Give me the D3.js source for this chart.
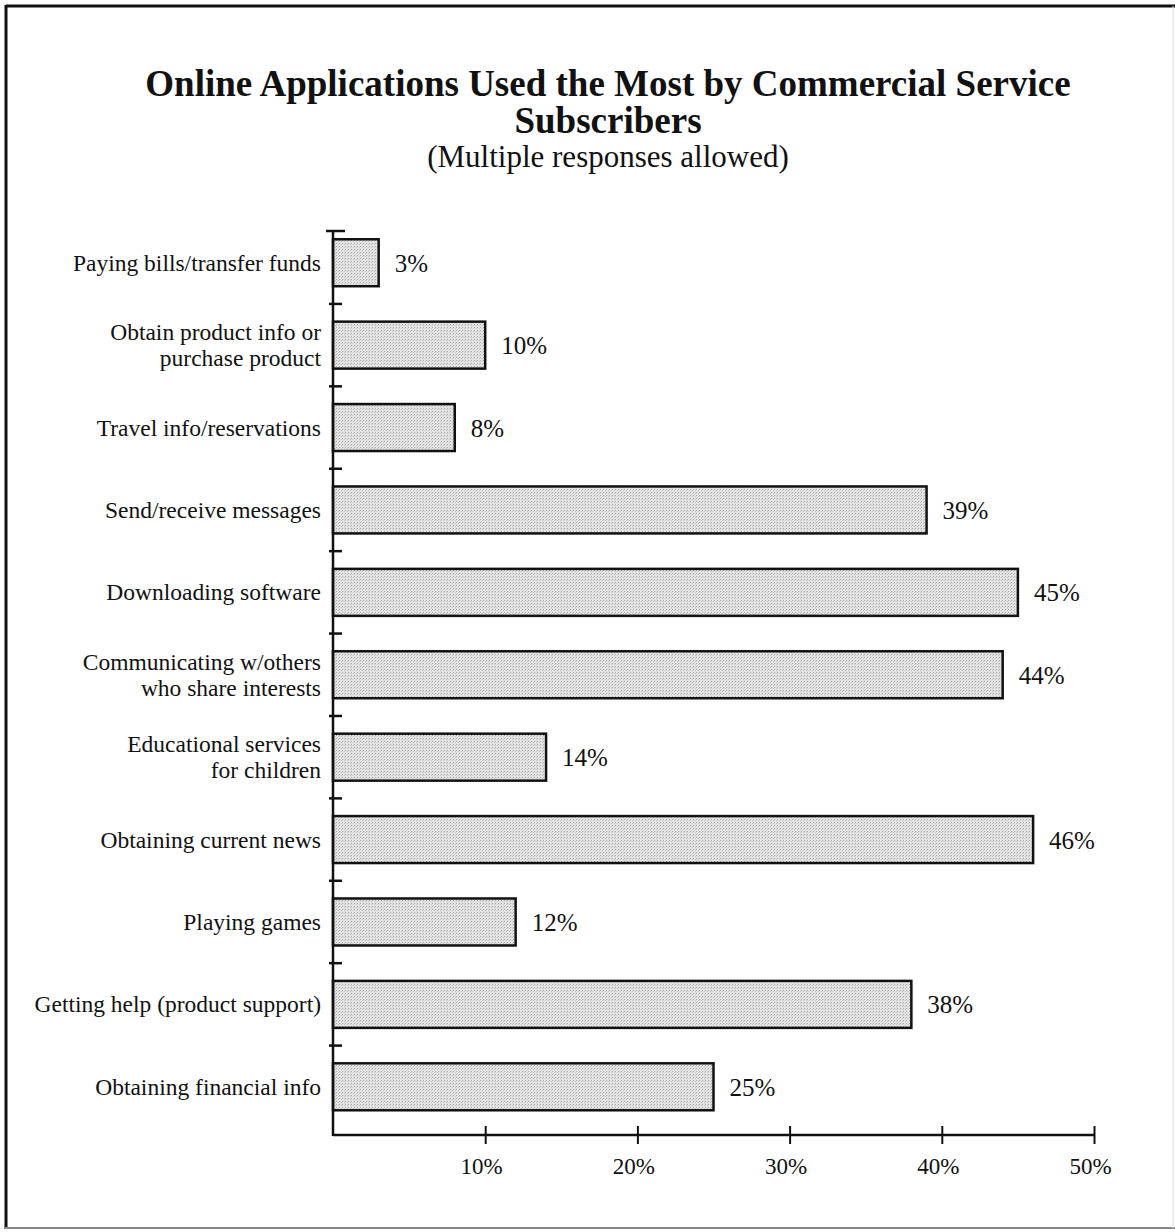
<!DOCTYPE html>
<html>
<head>
<meta charset="utf-8">
<script src="https://cdn.jsdelivr.net/npm/d3@7/dist/d3.min.js"></script>
<style>
  html, body { margin: 0; padding: 0; background: #fff; }
  svg { display: block; }
  text { font-family: "Liberation Serif", "Times New Roman", Times, serif; fill: #111; }
</style>
</head>
<body>
<svg id="chart" width="1175" height="1232"></svg>
<script>
// Survey categories, top to bottom
const categories = [
  "Paying bills/transfer funds",
  "Obtain product info or\npurchase product",
  "Travel info/reservations",
  "Send/receive messages",
  "Downloading software",
  "Communicating w/others\nwho share interests",
  "Educational services\nfor children",
  "Obtaining current news",
  "Playing games",
  "Getting help (product support)",
  "Obtaining financial info"
];

// Share of subscribers (%) choosing each application
const values = [3, 10, 8, 39, 45, 44, 14, 46, 12, 38, 25];

// Horizontal axis tick values (%)
const tickValues = [10, 20, 30, 40, 50];

const titleLines = ["Online Applications Used the Most by Commercial Service", "Subscribers"];
const subtitle = "(Multiple responses allowed)";

const svg = d3.select("#chart");
const W = 1175, H = 1232;

// Page frame
const frame = svg.append("g");
frame.append("line").attr("x1", 6).attr("y1", 6).attr("x2", W).attr("y2", 6)
  .attr("stroke", "#111").attr("stroke-width", 3);
frame.append("line").attr("x1", 6).attr("y1", 5).attr("x2", 6).attr("y2", 1229)
  .attr("stroke", "#111").attr("stroke-width", 3);
frame.append("line").attr("x1", 5).attr("y1", 1228).attr("x2", W).attr("y2", 1228)
  .attr("stroke", "#888").attr("stroke-width", 2);
frame.append("line").attr("x1", 1173).attr("y1", 6).attr("x2", 1173).attr("y2", 1228)
  .attr("stroke", "#ddd").attr("stroke-width", 1);

// Stippled grey fill for the bars
const defs = svg.append("defs");
const pat = defs.append("pattern").attr("id", "stipple")
  .attr("width", 3).attr("height", 3).attr("patternUnits", "userSpaceOnUse");
pat.append("rect").attr("width", 3).attr("height", 3).attr("fill", "#e3e3e3");
pat.append("rect").attr("x", 0).attr("y", 0).attr("width", 1).attr("height", 1).attr("fill", "#a8a8a8");
pat.append("rect").attr("x", 2).attr("y", 1).attr("width", 1).attr("height", 1).attr("fill", "#c4c4c4");

// Titles
const cx = 608;
svg.append("text").attr("x", cx).attr("y", 96).attr("text-anchor", "middle")
  .attr("font-size", 37).attr("font-weight", "bold").text(titleLines[0]);
svg.append("text").attr("x", cx).attr("y", 133).attr("text-anchor", "middle")
  .attr("font-size", 37).attr("font-weight", "bold").text(titleLines[1]);
svg.append("text").attr("x", cx).attr("y", 167).attr("text-anchor", "middle")
  .attr("font-size", 31).text(subtitle);

// Scales
const x0 = 333, x1 = 1094;
const yTop = 231, yBot = 1135;
const x = d3.scaleLinear().domain([0, 50]).range([x0, x1]);
const y = d3.scaleBand().domain(categories).range([yTop, yBot])
  .paddingInner(0.43).paddingOuter(0.2).align(0.25);
const gap = y.step() - y.bandwidth();

// Bars
svg.append("g").selectAll("rect").data(categories).join("rect")
  .attr("x", x(0))
  .attr("y", d => y(d))
  .attr("width", (d, i) => x(values[i]) - x(0))
  .attr("height", y.bandwidth())
  .attr("fill", "url(#stipple)")
  .attr("stroke", "#111")
  .attr("stroke-width", 2.5);

// Value labels
svg.append("g").selectAll("text").data(categories).join("text")
  .attr("x", (d, i) => x(values[i]) + 16)
  .attr("y", d => y(d) + y.bandwidth() / 2 + 9)
  .attr("font-size", 25)
  .text((d, i) => values[i] + "%");

// Category labels (multi-line, right aligned)
const lab = svg.append("g").selectAll("text").data(categories).join("text")
  .attr("text-anchor", "end")
  .attr("font-size", 23.5)
  .attr("x", 321)
  .attr("y", d => y(d) + y.bandwidth() / 2);
lab.each(function (d) {
  const lines = d.split("\n");
  const t = d3.select(this);
  const lh = 26;
  lines.forEach((ln, k) => {
    t.append("tspan").attr("x", 321)
      .attr("y", y(d) + y.bandwidth() / 2 + 8 + (k - (lines.length - 1) / 2) * lh)
      .text(ln);
  });
});

// Vertical axis line with separators between categories
const ax = svg.append("g").attr("stroke", "#111");
ax.append("line").attr("x1", x0).attr("x2", x0).attr("y1", yTop).attr("y2", yBot + 1)
  .attr("stroke-width", 2.5);
ax.append("line").attr("x1", x0 - 7).attr("x2", x0 + 12).attr("y1", yTop).attr("y2", yTop)
  .attr("stroke-width", 2.5);
ax.selectAll("line.sep").data(categories.slice(1)).join("line").attr("class", "sep")
  .attr("x1", x0 - 4).attr("x2", x0 + 9)
  .attr("y1", d => y(d) - gap / 2).attr("y2", d => y(d) - gap / 2)
  .attr("stroke-width", 2.5);

// Horizontal axis
const xAxis = svg.append("g").attr("transform", `translate(0,${yBot})`)
  .call(d3.axisBottom(x).tickValues(tickValues).tickSize(0).tickFormat(d => d + "%"));
xAxis.select(".domain").attr("stroke", "#111").attr("stroke-width", 2.5)
  .attr("d", `M${x0},0H${x1}`);
xAxis.selectAll(".tick text").attr("font-size", 23).attr("dy", 0).attr("y", 39)
  .attr("dx", -4).attr("fill", "#111")
  .style("font-family", '"Liberation Serif", "Times New Roman", serif');
xAxis.selectAll(".tick").append("line")
  .attr("y1", -9).attr("y2", 9).attr("stroke", "#111").attr("stroke-width", 2);
</script>
</body>
</html>
